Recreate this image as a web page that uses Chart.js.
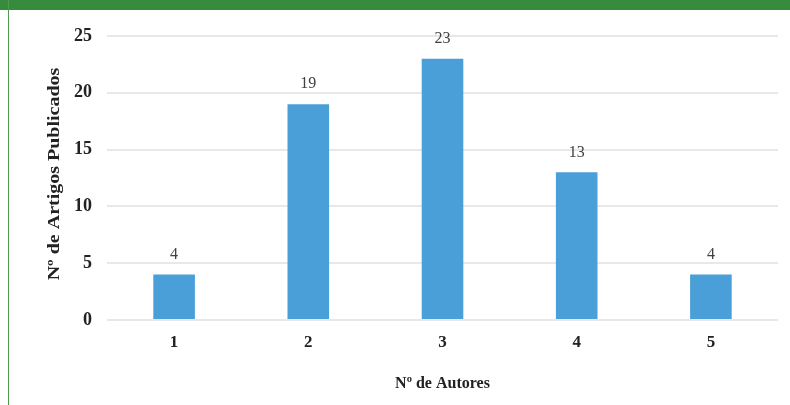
<!DOCTYPE html>
<html>
<head>
<meta charset="utf-8">
<script src="https://cdn.jsdelivr.net/npm/chart.js@4"></script>
<style>
  html, body { margin: 0; padding: 0; background: #fff; }
  #wrap { position: relative; width: 790px; height: 405px; overflow: hidden; }
  #band { position: absolute; left: 0; top: 0; width: 790px; height: 10px; background: #378b3d; }
  #edge { position: absolute; left: 8px; top: 0; width: 1px; height: 405px; background: #4a9a50; }
  canvas { position: absolute; left: 0; top: 0; }
</style>
</head>
<body>
<div id="wrap">
  <canvas id="chart" width="790" height="405"></canvas>
  <div id="band"></div>
  <div id="edge"></div>
</div>
<script>
const authors = ['1', '2', '3', '4', '5'];
const articles = [4, 19, 23, 13, 4];
const yTicks = [0, 5, 10, 15, 20, 25];
const yTitle = 'Nº de Artigos Publicados';

const serif = '"Liberation Serif", "Times New Roman", serif';

// value labels above each bar + the (stretched) y axis title
const barLabels = {
    id: 'barLabels',
    afterDatasetsDraw(chart) {
        const ctx = chart.ctx;
        const meta = chart.getDatasetMeta(0);
        ctx.save();
        ctx.font = '16px ' + serif;
        ctx.fillStyle = '#404040';
        ctx.textAlign = 'center';
        ctx.textBaseline = 'bottom';
        meta.data.forEach((bar, i) => {
            ctx.fillText(articles[i], bar.x, bar.y - 12);
        });
        ctx.restore();

        const area = chart.chartArea;
        ctx.save();
        ctx.translate(55, (area.top + area.bottom) / 2 - 4);
        ctx.rotate(-Math.PI / 2);
        ctx.scale(1.25, 1);
        ctx.font = 'bold 16px ' + serif;
        ctx.fillStyle = '#222';
        ctx.textAlign = 'center';
        ctx.textBaseline = 'middle';
        ctx.fillText(yTitle, 0, 0);
        ctx.restore();
    }
};

new Chart(document.getElementById('chart').getContext('2d'), {
    type: 'bar',
    data: {
        labels: authors,
        datasets: [{
            data: articles,
            backgroundColor: '#4a9fd8',
            borderWidth: 0,
            categoryPercentage: 1,
            barPercentage: 0.31
        }]
    },
    options: {
        responsive: false,
        animation: false,
        layout: { padding: { left: 42, right: 12, top: 36, bottom: 0 } },
        plugins: {
            legend: { display: false },
            tooltip: { enabled: false }
        },
        scales: {
            x: {
                grid: { display: false, drawTicks: false },
                border: { display: false },
                ticks: { color: '#222', font: { family: serif, size: 17, weight: 'bold' }, padding: 12 },
                title: {
                    display: true,
                    text: 'Nº de Autores',
                    color: '#222',
                    font: { family: serif, size: 16, weight: 'bold' },
                    padding: { top: 0, bottom: 12 }
                },
                afterFit(scale) { scale.height = 85; }
            },
            y: {
                min: 0,
                max: 25,
                afterBuildTicks(scale) { scale.ticks = yTicks.map(v => ({ value: v })); },
                grid: { color: '#e8e8e8', lineWidth: 2, drawTicks: false },
                border: { display: false },
                ticks: { color: '#222', font: { family: serif, size: 18, weight: 'bold' }, padding: 15 },
                afterFit(scale) { scale.width = 65; }
            }
        }
    },
    plugins: [barLabels]
});
</script>
</body>
</html>
